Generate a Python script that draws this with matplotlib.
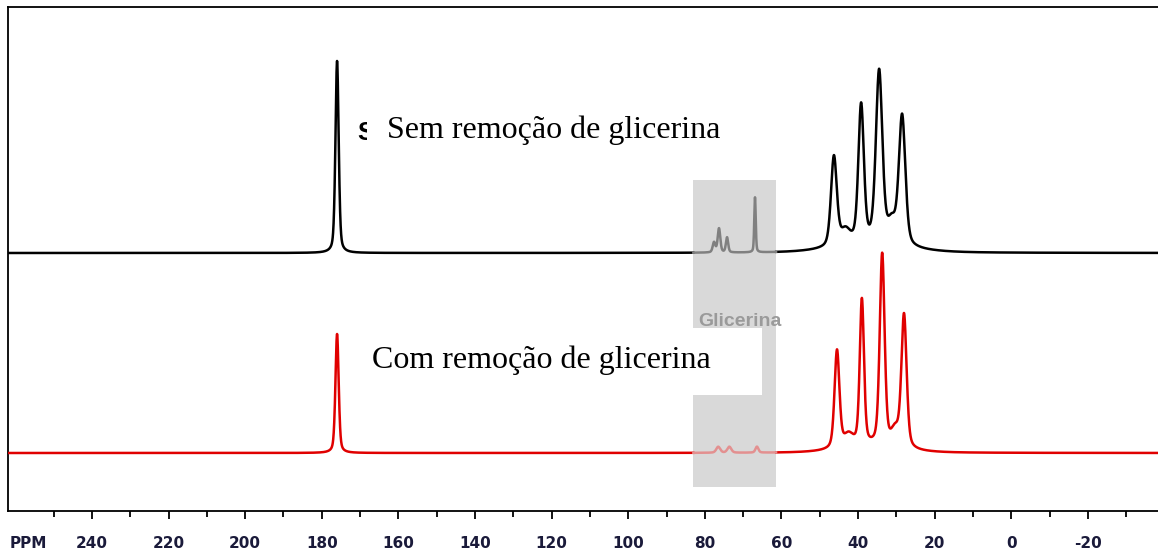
import numpy as np
import matplotlib
matplotlib.use("Agg")
import matplotlib.pyplot as plt
from matplotlib.patches import Rectangle

# ---- data ----
tick_major = [240, 220, 200, 180, 160, 140, 120, 100, 80, 60, 40, 20, 0, -20]
tick_minor = [250, 230, 210, 190, 170, 150, 130, 110, 90, 70, 50, 30, 10, -10, -30]

# top spectrum (Sem remoção de glicerina): centre ppm, height, width (ppm)
black_ppm    = [176.0, 46.3, 43.3, 39.2, 34.5, 31.2, 28.5, 37.0, 77.6, 76.3, 74.2, 66.9]
black_height = [192,   90,   14,   138,  172,  20,   130,  8,    10,   24,   15,   55]
black_width  = [1.0,   1.8,  3.0,  1.7,  2.0,  2.5,  2.0,  22,   0.8,  0.8,  0.7,  0.45]
black_offset = 258

# bottom spectrum (Com remoção de glicerina)
red_ppm    = [176.0, 45.5, 42.5, 39.0, 33.7, 30.3, 28.0, 37.0, 76.5, 73.6, 66.4]
red_height = [119,   98,   12,   146,  192,  16,   133,  6,    6,    6,    6]
red_width  = [1.0,   1.5,  3.0,  1.3,  1.5,  2.5,  1.6,  18,   1.2,  1.2,  0.9]
red_offset = 58

glycerin_range = (83.0, 61.4)

# ---- figure ----
W, H = 1158, 554
fig = plt.figure(figsize=(W / 100, H / 100), dpi=100)
ax = fig.add_axes([8 / W, (H - 511) / H, 1 - 8 / W, (511 - 7) / H])
ax.set_xlim(261.9, -38.3)
ax.set_ylim(0, 504)

x = np.linspace(262, -39, 9000)
ETA = 0.4  # Lorentzian fraction of the pseudo-Voigt line shape


def spectrum(ppm, hgt, wid, off):
    y = np.zeros_like(x) + off
    for p, h, w in zip(ppm, hgt, wid):
        d = (x - p) / (w / 2)
        lor = 1 / (1 + d ** 2)
        gau = np.exp(-np.log(2) * d ** 2)
        y += h * (ETA * lor + (1 - ETA) * gau)
    return y


yb = spectrum(black_ppm, black_height, black_width, black_offset)
yr = spectrum(red_ppm, red_height, red_width, red_offset)

g_hi, g_lo = glycerin_range
inside = (x <= g_hi) & (x >= g_lo)

# grey box
ax.add_patch(Rectangle((g_lo, 511 - 487), g_hi - g_lo, (487 - 180),
                       facecolor="#d9d9d9", edgecolor="none", zorder=1))

lw = 1.8
ax.plot(x, np.where(inside, np.nan, yb), color="black", lw=lw, zorder=3)
ax.plot(x, np.where(inside, yb, np.nan), color="#808080", lw=lw, zorder=3)
ax.plot(x, np.where(inside, np.nan, yr), color="#e00000", lw=lw, zorder=3)
ax.plot(x, np.where(inside, yr, np.nan), color="#e39090", lw=lw, zorder=3)

# white box behind the lower label
ax.add_patch(Rectangle((65.1, 511 - 395), 168.7 - 65.1, 395 - 328,
                       facecolor="white", edgecolor="none", zorder=4))

ax.text(70.8, 511 - 322, "Glicerina", color="#9a9a9a", fontsize=14,
        fontweight="bold", family="Liberation Sans", ha="center", va="center",
        zorder=5)

# clipped bold S next to top label
ax.text(168.6, 511 - 133, "S", fontsize=18, fontweight="bold",
        family="Liberation Sans", ha="center", va="center", zorder=4)
ax.add_patch(Rectangle((110, 511 - 150), 168.3 - 110, 40, facecolor="white",
                       edgecolor="none", zorder=4.5))

ax.text(163.0, 511 - 130, "Sem remoção de glicerina", fontsize=23,
        family="Liberation Serif", ha="left", va="center", zorder=6)
ax.text(166.9, 511 - 360, "Com remoção de glicerina", fontsize=23,
        family="Liberation Serif", ha="left", va="center", zorder=6)

# axes styling
ax.spines["right"].set_visible(False)
for s in ["left", "top", "bottom"]:
    ax.spines[s].set_linewidth(1.3)
ax.set_yticks([])
ax.set_xticks(tick_major)
ax.set_xticks(tick_minor, minor=True)
ax.set_xticklabels([str(t) for t in tick_major])
ax.tick_params(axis="x", which="major", length=6, width=1.3, pad=12,
               labelsize=11, labelcolor="#1a1a3a", direction="out")
ax.tick_params(axis="x", which="minor", length=4, width=1.3, direction="out")
for lab in ax.get_xticklabels():
    lab.set_fontweight("bold")
fig.text(28 / W, (H - 543) / H, "PPM", fontsize=11, fontweight="bold",
         color="#1a1a3a", ha="center", va="center")

fig.savefig("out.png", dpi=100, facecolor="white")
